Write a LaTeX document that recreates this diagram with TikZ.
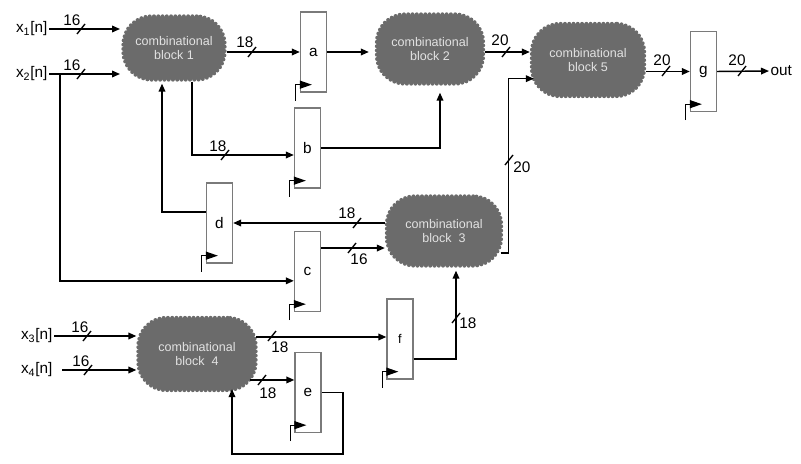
\documentclass[tikz,border=0pt]{standalone}
\usepackage{fontspec}
\setmainfont{Liberation Sans}
\usetikzlibrary{arrows.meta}
\definecolor{cloudgray}{HTML}{6B6B6B}
\definecolor{cloudtext}{HTML}{E2E2E2}
\definecolor{boxgray}{HTML}{7A7A7A}
\newcommand\regclk[1]{\draw[clk] ([xshift=-3pt,yshift=-6pt]#1.south west) |- ([xshift=9pt,yshift=6pt]#1.south west);}
\begin{document}
\begin{tikzpicture}[x=0.75pt,y=-0.75pt,
  wire/.style={line width=1.1pt},
  arr/.style={wire,-{Triangle[length=6pt,width=5pt]}},
  reg/.style={draw=boxgray,line width=1pt,minimum width=19.5pt,minimum height=60pt,inner sep=0pt,font=\fontsize{11.5}{13}\selectfont},
  cloudblk/.style={rectangle,rounded corners=21pt,fill=cloudgray,draw=cloudgray,line width=3pt,line cap=round,dash pattern=on 0pt off 3.2pt,text=cloudtext,align=center,inner sep=0pt,font=\fontsize{9.4}{10.6}\selectfont},
  lbl/.style={font=\fontsize{11.5}{13}\selectfont,inner sep=1pt},
  bus/.pic={\draw[line width=1pt] (-4,5) -- (4,-5);},
  clk/.style={line width=0.9pt,-{Triangle[length=9pt,width=6pt]}}
]
\useasboundingbox (0,0) rectangle (801,464);

% combinational blocks
\node[cloudblk,minimum width=76pt,minimum height=47.5pt] (c1) at (174,48) {combinational\\block 1};
\node[cloudblk,minimum width=79.75pt,minimum height=52pt] (c2) at (430,49) {combinational\\block 2};
\node[cloudblk,minimum width=85.75pt,minimum height=52pt] (c3) at (444,231) {combinational\\block~~3};
\node[cloudblk,minimum width=88pt,minimum height=54.25pt] (c4) at (197,354) {combinational\\block~~4};
\node[cloudblk,minimum width=84.25pt,minimum height=54.25pt] (c5) at (588,60) {combinational\\block 5};

% registers
\node[reg] (a) at (313.5,52) {a};
\node[reg] (b) at (307.5,148) {b};
\node[reg] (c) at (307.5,271.5) {c};
\node[reg] (d) at (219.5,223) {d};
\node[reg] (e) at (308,392.5) {e};
\node[reg,font=\fontsize{9.5}{11}\selectfont] (f) at (400,339) {f};
\node[reg] (g) at (703.5,71.5) {g};
\regclk{a}\regclk{b}\regclk{c}\regclk{d}\regclk{e}\regclk{f}\regclk{g}

% inputs / output
\node[lbl,anchor=east] (x1) at (49,29) {x\textsubscript{1}[n]};
\node[lbl,anchor=east] (x2) at (49,74) {x\textsubscript{2}[n]};
\node[lbl,anchor=east] (x3) at (54,336) {x\textsubscript{3}[n]};
\node[lbl,anchor=east] (x4) at (54,370) {x\textsubscript{4}[n]};
\node[lbl,anchor=west] (out) at (769,71) {out};

% x1, x2 -> block 1
\draw[arr] (x1.east) -- ([xshift=-1pt]x1.east -| c1.west);
\pic at (81,29) {bus}; \node[lbl] (n1) at (72,20) {16};
\draw[arr] (x2.east) -- ([xshift=-1pt]x2.east -| c1.west);
\pic at (81,74) {bus}; \node[lbl] (n2) at (72,65) {16};
\coordinate (x2j) at (60,74);
\draw[arr] (x2j) |- ([yshift=-7pt]c.west);

% block 1 -> a, b
\draw[arr] (c1.east |- a.west) -- (a.west);
\pic at (252,52) {bus}; \node[lbl] (n3) at (245,42) {18};
\draw[arr] ([xshift=13.5pt]c1.south) |- ([yshift=-5.25pt]b.west);
\pic at (225,155) {bus}; \node[lbl] (n4) at (218,146) {18};

% a, b -> block 2
\draw[arr] (a.east) -- ([xshift=-4.5pt]a.east -| c2.west);
\draw[arr] (b.east) -| ([xshift=7.5pt,yshift=-5.25pt]c2.south);

% block 2 -> block 5
\draw[arr] ([yshift=-2.25pt]c2.east) -- ([yshift=-2.25pt]c2.east -| c5.west);
\pic at (506,52) {bus}; \node[lbl] (n5) at (500,40) {20};

% block 5 -> g -> out
\draw[arr] (c5.east |- g.west) -- (g.west);
\pic at (666,71) {bus}; \node[lbl] (n6) at (662,60) {20};
\draw[arr] (g.east) -- (out.west);
\pic at (742,71) {bus}; \node[lbl] (n7) at (737,60) {20};

% block 3 -> block 5
\draw[arr] ([xshift=-2pt,yshift=-16.5pt]c3.east) -| ([xshift=-16pt,yshift=-14pt]c5.west) -- ([xshift=3pt,yshift=-14pt]c5.west);
\pic at (509,160) {bus}; \node[lbl] (n8) at (522,167) {20};

% block 3 -> d -> block 1
\draw[arr] (c3.west |- d.east) -- (d.east);
\pic at (357,223) {bus}; \node[lbl] (n9) at (347,213) {18};
\draw[arr] ([yshift=8.25pt]d.west) -| ([xshift=-9pt,yshift=-1.5pt]c1.south);

% c -> block 3
\draw[arr] ([yshift=17.6pt]c.east) -- ([yshift=17.6pt]c.east -| c3.west);
\pic at (352,248) {bus}; \node[lbl] (n10) at (359,259) {16};

% f -> block 3
\draw[arr] ([yshift=-15pt]f.east) -| ([xshift=9pt,yshift=-2.25pt]c3.south);
\pic at (456,318) {bus}; \node[lbl] (n11) at (468,323) {18};

% x3, x4 -> block 4
\draw[arr] (x3.east) -- (x3.east -| c4.west);
\pic at (87,336) {bus}; \node[lbl] (n12) at (80,327) {16};
\draw[arr] ([xshift=6pt]x4.east) -- (x4.east -| c4.west);
\pic at (88,370) {bus}; \node[lbl] (n13) at (81,361) {16};

% block 4 -> f, e
\draw[arr] ([xshift=-1pt,yshift=1.5pt]f.west -| c4.east) -- ([yshift=1.5pt]f.west);
\pic at (272,336) {bus}; \node[lbl] (n14) at (280,347) {18};
\draw[arr] ([xshift=-6pt,yshift=9.4pt]e.west -| c4.east) -- ([yshift=9.4pt]e.west);
\pic at (262,380) {bus}; \node[lbl] (n15) at (268,393) {18};

% e -> block 4 (feedback)
\coordinate (eloop) at (343,454);
\draw[arr] (e.east) -| (eloop) -| ([xshift=26.25pt,yshift=2.25pt]c4.south);
\end{tikzpicture}
\end{document}
